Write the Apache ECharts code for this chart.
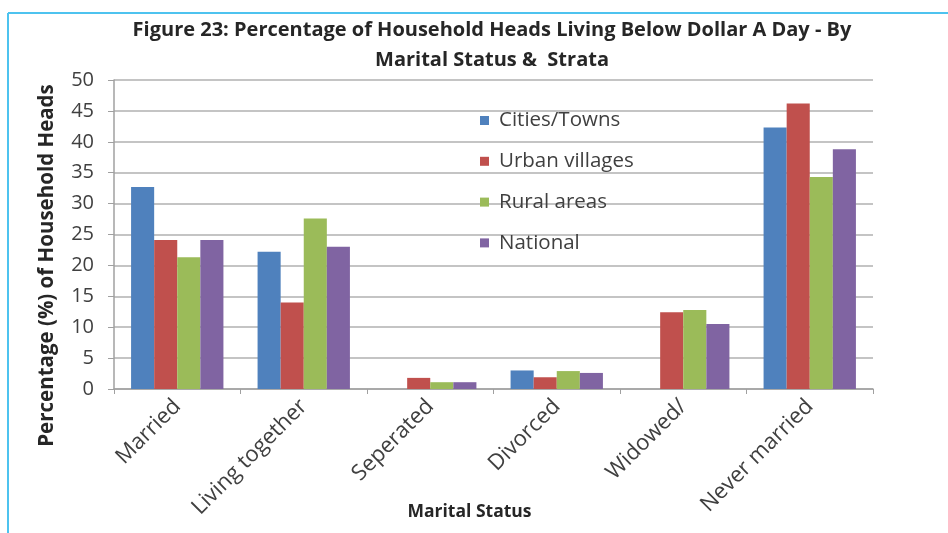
<!DOCTYPE html>
<html>
<head>
<meta charset="utf-8">
<script src="https://cdn.jsdelivr.net/npm/echarts@6/dist/echarts.min.js"></script>
<style>html,body{margin:0;padding:0;background:#fff}#c{width:948px;height:533px}</style>
</head>
<body>
<div id="c"></div>
<script>
const categories = ['Married', 'Living together', 'Seperated', 'Divorced', 'Widowed/', 'Never married'];
const seriesNames = ['Cities/Towns', 'Urban villages', 'Rural areas', 'National'];
const citiesTowns = [32.7, 22.2, 0, 3.0, 0, 42.3];
const urbanVillages = [24.1, 14.0, 1.8, 1.9, 12.4, 46.2];
const ruralAreas = [21.3, 27.6, 1.1, 2.9, 12.8, 34.3];
const national = [24.1, 23.0, 1.1, 2.6, 10.5, 38.8];
const yTicks = [0, 5, 10, 15, 20, 25, 30, 35, 40, 45, 50];
const colors = ['#4f81bd', '#c0504d', '#9bbb59', '#8064a2'];
const values = [citiesTowns, urbanVillages, ruralAreas, national];

const font = "'Open Sans', 'Noto Sans', sans-serif";
const chart = echarts.init(document.getElementById('c'));
chart.setOption({
  animation: false,
  textStyle: { fontFamily: font },
  graphic: [
    { type: 'line', shape: { x1: 8, y1: 13, x2: 948, y2: 13 }, style: { stroke: '#4dc3ef', lineWidth: 2 } },
    { type: 'line', shape: { x1: 8, y1: 13, x2: 8, y2: 533 }, style: { stroke: '#4dc3ef', lineWidth: 2 } }
  ],
  title: {
    text: 'Figure 23: Percentage of Household Heads Living Below Dollar A Day - By\nMarital Status &  Strata',
    left: 487, textAlign: 'center', top: 10,
    textStyle: { fontFamily: font, fontSize: 20, fontWeight: 'bold', color: '#262626', lineHeight: 30 }
  },
  legend: {
    orient: 'vertical', left: 475, top: 105, itemWidth: 9, itemHeight: 9, itemGap: 19.8,
    icon: 'rect',
    textStyle: { fontFamily: font, fontSize: 20.5, lineHeight: 21, color: '#404040', padding: [0, 0, 0, 5] },
    data: seriesNames
  },
  grid: { left: 114, right: 75, top: 80, bottom: 144, containLabel: false, outerBoundsMode: 'none' },
  xAxis: {
    type: 'category', data: categories,
    name: 'Marital Status', nameLocation: 'middle', nameGap: 114, nameMoveOverlap: false,
    nameTextStyle: { fontFamily: font, fontSize: 17.5, fontWeight: 'bold', color: '#262626', padding: [0, 48, 0, 0] },
    axisLine: { lineStyle: { color: '#a0a0a0', width: 1.5 } },
    axisTick: { show: true, length: 5, lineStyle: { color: '#a0a0a0' } },
    axisLabel: { rotate: 45, fontFamily: font, fontSize: 22, color: '#404040', margin: 14, interval: 0 }
  },
  yAxis: {
    type: 'value', min: 0, max: 50, interval: 5,
    name: 'Percentage (%) of Household Heads', nameLocation: 'middle', nameGap: 56, nameMoveOverlap: false,
    nameTextStyle: { fontFamily: font, fontSize: 20.5, fontWeight: 'bold', color: '#262626', padding: [0, 62, 0, 0] },
    axisLine: { show: true, lineStyle: { color: '#a0a0a0', width: 1.5 } },
    axisTick: { show: true, length: 6, inside: false, lineStyle: { color: '#a0a0a0' } },
    axisLabel: { fontFamily: font, fontSize: 20, color: '#404040', margin: 20,
      formatter: v => yTicks.indexOf(v) >= 0 ? String(v) : '' },
    splitLine: { lineStyle: { color: '#c4c4c4', width: 2 } }
  },
  series: seriesNames.map((n, i) => ({
    name: n, type: 'bar', data: values[i], barGap: '0%', barCategoryGap: '27%',
    itemStyle: { color: colors[i] }
  }))
});
</script>
</body>
</html>
